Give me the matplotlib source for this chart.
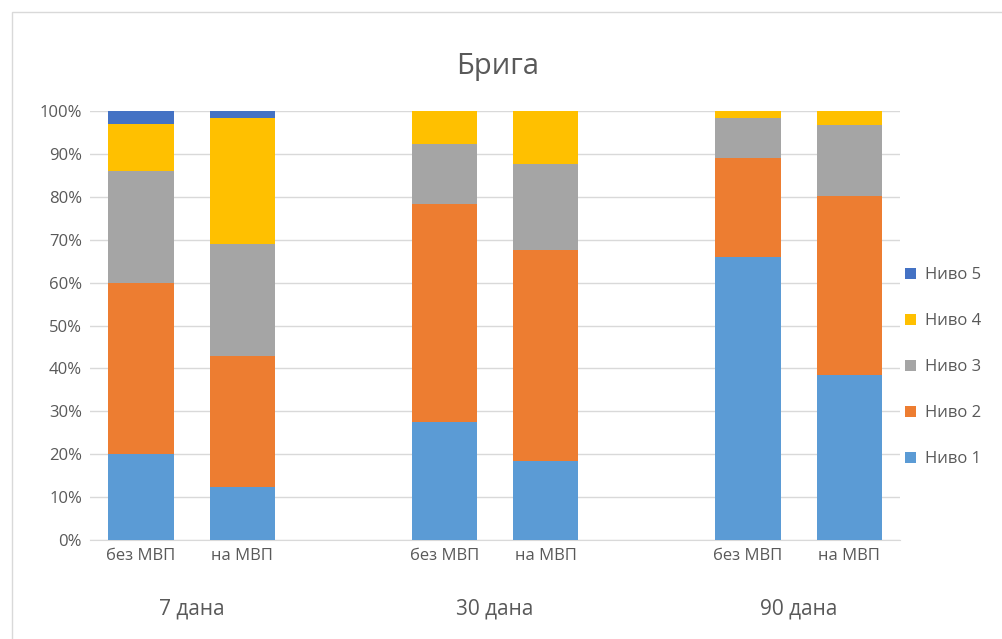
import numpy as np
import matplotlib.pyplot as plt
from matplotlib.patches import Rectangle

plt.rcParams['font.family'] = ['Open Sans', 'DejaVu Sans']

title = 'Брига'
groups = ['7 дана', '30 дана', '90 дана']
bar_labels = ['без МВП', 'на МВП'] * 3
levels = ['Ниво 1', 'Ниво 2', 'Ниво 3', 'Ниво 4', 'Ниво 5']
colors = ['#5B9BD5', '#ED7D31', '#A5A5A5', '#FFC000', '#4472C4']

# shares in % per bar (order: 7д без, 7д на, 30д без, 30д на, 90д без, 90д на)
nivo1 = [20.0, 12.4, 27.5, 18.4, 66.0, 38.5]
nivo2 = [40.0, 30.6, 50.9, 49.2, 23.1, 41.7]
nivo3 = [26.0, 26.1, 13.9, 20.0, 9.2, 16.5]
nivo4 = [10.9, 29.3, 7.7, 12.4, 1.7, 3.3]
nivo5 = [3.1, 1.6, 0.0, 0.0, 0.0, 0.0]
series = [nivo1, nivo2, nivo3, nivo4, nivo5]

x = np.array([0, 1, 3, 4, 6, 7])
txt = '#595959'

fig = plt.figure(figsize=(10.03, 6.39), dpi=100)
fig.patches.append(Rectangle((0.012, -0.01), 1.0, 0.992, transform=fig.transFigure,
                             fill=False, edgecolor='#D9D9D9', linewidth=1))
ax = fig.add_axes([0.0901, 0.155, 0.807, 0.671])

bottom = np.zeros(len(x))
bars = []
for vals, c, lab in zip(series, colors, levels):
    b = ax.bar(x, vals, bottom=bottom, width=0.645, color=c, label=lab, zorder=3)
    bars.append(b)
    bottom += np.array(vals)

ax.set_xlim(-0.5, 7.5)
ax.set_ylim(0, 100)
ax.set_yticks(np.arange(0, 101, 10))
ax.set_yticklabels([f'{v}%' for v in range(0, 101, 10)])
ax.yaxis.grid(True, color='#D9D9D9', linewidth=1, zorder=0)
ax.set_xticks(x)
ax.set_xticklabels(bar_labels)
ax.tick_params(axis='both', length=0, labelsize=12, colors=txt, pad=6)
ax.tick_params(axis='y', pad=6)
for s in ['top', 'right', 'left']:
    ax.spines[s].set_visible(False)
ax.spines['bottom'].set_color('#D9D9D9')

for i, g in enumerate(groups):
    ax.text((x[2 * i] + x[2 * i + 1]) / 2, -16, g, ha='center', va='center',
            fontsize=15, color=txt, transform=ax.transData, clip_on=False)

fig.text(0.496, 0.896, title, ha='center', va='center', fontsize=21, color=txt)

leg = fig.legend(bars[::-1], levels[::-1], loc='center left', bbox_to_anchor=(0.887, 0.425),
                 frameon=False, fontsize=12, labelcolor=txt, handlelength=0.7,
                 handleheight=0.7, handletextpad=0.5, labelspacing=1.8)

fig.savefig('out.png', dpi=100)
